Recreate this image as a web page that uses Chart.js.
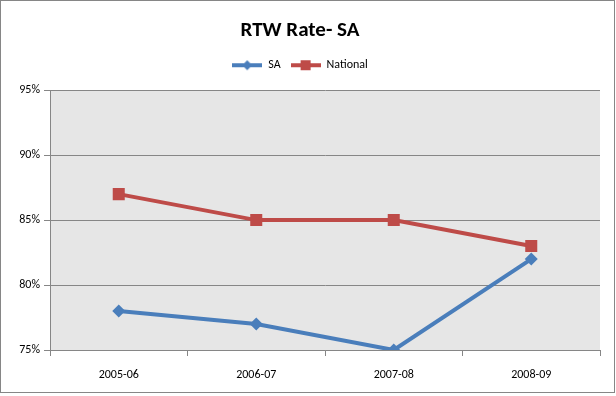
<!DOCTYPE html>
<html lang="en">
<head>
  <meta charset="UTF-8" />
  <title>RTW Rate- SA</title>
  <script src="https://cdn.jsdelivr.net/npm/chart.js"></script>
  <style>
    html, body { margin: 0; padding: 0; background: #fff; }
    #wrap { width: 616px; height: 396px; position: relative; }
  </style>
</head>
<body>
  <div id="wrap"><canvas id="chart" width="616" height="396"></canvas></div>

  <script>
    const categories = ['2005-06', '2006-07', '2007-08', '2008-09']
    const saValues = [78, 77, 75, 82]
    const nationalValues = [87, 85, 85, 83]
    const yTicks = [75, 80, 85, 90, 95]

    const blue = '#4a7ebb'
    const red = '#be4b48'
    const font = "Calibri, Carlito, Lato, 'Open Sans', sans-serif"

    // little line+marker swatch for the legend, like Excel draws it
    function swatch(color, shape) {
      const c = document.createElement('canvas')
      c.width = 30; c.height = 12
      const ctx = c.getContext('2d')
      ctx.strokeStyle = color
      ctx.lineWidth = 4
      ctx.beginPath(); ctx.moveTo(0, 6); ctx.lineTo(30, 6); ctx.stroke()
      ctx.fillStyle = color
      if (shape === 'diamond') {
        ctx.beginPath()
        ctx.moveTo(15, 1); ctx.lineTo(20, 6); ctx.lineTo(15, 11); ctx.lineTo(10, 6)
        ctx.closePath(); ctx.fill()
      } else {
        ctx.fillRect(10, 1, 10, 10)
      }
      return c
    }

    const background = {
      id: 'background',
      beforeInit(chart) {
        // extra gap under the legend
        const fit = chart.legend.fit.bind(chart.legend)
        chart.legend.fit = function () { fit(); this.height += 9 }
      },
      beforeDraw(chart) {
        const { ctx, chartArea: a } = chart
        ctx.save()
        ctx.fillStyle = '#e6e6e6'
        ctx.fillRect(a.left, a.top, a.right - a.left, a.bottom - a.top)
        ctx.restore()
      },
      afterDraw(chart) {
        const ctx = chart.ctx
        ctx.save()
        ctx.strokeStyle = '#868686'
        ctx.lineWidth = 1
        ctx.strokeRect(0.5, 0.5, chart.width - 2, chart.height - 4)
        ctx.restore()
      }
    }

    new Chart(document.getElementById('chart'), {
      type: 'line',
      data: {
        labels: categories,
        datasets: [
          {
            label: 'SA',
            data: saValues,
            borderColor: blue,
            backgroundColor: blue,
            borderWidth: 4,
            pointStyle: 'rectRot',
            pointRadius: 6.5,
            pointHoverRadius: 6.5,
            pointBorderWidth: 0,
            tension: 0
          },
          {
            label: 'National',
            data: nationalValues,
            borderColor: red,
            backgroundColor: red,
            borderWidth: 4,
            pointStyle: 'rect',
            pointRadius: 8.5,
            pointHoverRadius: 8.5,
            pointBorderWidth: 0,
            tension: 0
          }
        ]
      },
      options: {
        responsive: false,
        animation: false,
        layout: { padding: { left: 0, right: 16, top: 3, bottom: 0 } },
        plugins: {
          title: {
            display: true,
            text: 'RTW Rate- SA',
            color: '#000',
            font: { family: font, size: 21, weight: 'bold' },
            padding: { top: 15, bottom: 6 }
          },
          legend: {
            labels: {
              usePointStyle: true,
              pointStyleWidth: 30,
              boxHeight: 12,
              color: '#000',
              font: { family: font, size: 12 },
              padding: 10,
              generateLabels(chart) {
                return chart.data.datasets.map((d, i) => ({
                  text: d.label,
                  pointStyle: swatch(d.borderColor, i === 0 ? 'diamond' : 'square'),
                  fillStyle: d.borderColor,
                  strokeStyle: d.borderColor,
                  lineWidth: 0,
                  datasetIndex: i
                }))
              }
            }
          },
          tooltip: { enabled: false }
        },
        scales: {
          x: {
            offset: true,
            grid: {
              display: true,
              offset: true,
              drawOnChartArea: false,
              tickLength: 6,
              color: '#868686'
            },
            border: { color: '#868686' },
            ticks: { color: '#000', font: { family: font, size: 12 }, padding: 12 },
            afterFit(scale) { scale.height = 46 }
          },
          y: {
            min: 75,
            max: 95,
            afterBuildTicks(scale) { scale.ticks = yTicks.map(v => ({ value: v })) },
            grid: { color: '#868686', tickLength: 6 },
            border: { color: '#868686' },
            ticks: {
              color: '#000',
              font: { family: font, size: 12 },
              padding: 4,
              callback: v => v + '%'
            },
            afterFit(scale) { scale.width = 50 }
          }
        }
      },
      plugins: [background]
    })
  </script>
</body>
</html>
